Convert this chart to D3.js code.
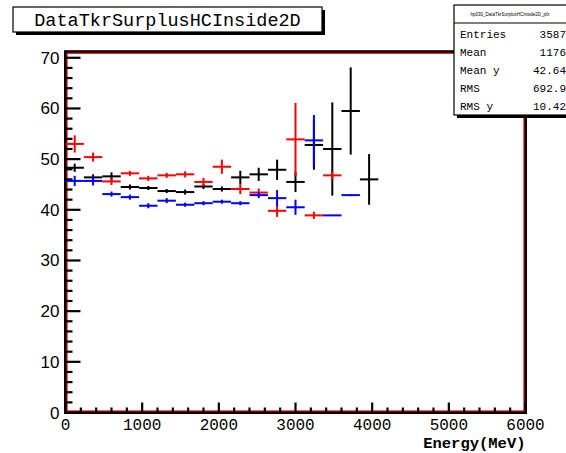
<!DOCTYPE html>
<html>
<head>
<meta charset="utf-8">
<script src="https://cdn.jsdelivr.net/npm/d3@7/dist/d3.min.js"></script>
<style>
  body { margin: 0; background: #fff; }
  text { fill: #000; }
</style>
</head>
<body>
<svg id="chart" width="566" height="453"></svg>
<script>
// bin centres (MeV), bins are 240 MeV wide
var binCenters = [120, 360, 600, 840, 1080, 1320, 1560, 1800, 2040, 2280, 2520, 2760, 3000, 3240, 3480, 3720, 3960]
var binHalfWidth = 120

var blackVals = [48.3, 46.4, 46.6, 44.5, 44.3, 43.7, 43.5, 44.6, 44.1, 46.4, 47.0, 47.9, 45.5, 52.8, 52.0, 59.5, 46.0]
var blackErrs = [0.8, 0.6, 0.8, 0.5, 0.4, 0.4, 0.5, 0.5, 0.5, 1.3, 1.3, 2.0, 2.0, 4.9, 9.2, 8.6, 5.0]

var redVals = [53.0, 50.4, 45.6, 47.2, 46.2, 46.8, 47.0, 45.5, 48.5, 44.1, 43.4, 39.8, 53.9, 38.9, 46.8, null, null]
var redErrs = [1.7, 0.9, 0.7, 0.5, 0.5, 0.5, 0.6, 0.8, 1.4, 1.0, 0.8, 1.2, 7.2, 0.7, 0.8, null, null]

var blueVals = [45.7, 45.7, 43.1, 42.5, 40.8, 41.8, 41.0, 41.3, 41.6, 41.3, 42.9, 42.3, 40.5, 53.7, 38.9, 42.9, null]
var blueErrs = [1.0, 0.9, 0.5, 0.5, 0.5, 0.5, 0.4, 0.4, 0.4, 0.4, 0.6, 1.6, 1.5, 5.0, 0, 0.2, null]

var xTickLabels = ["0", "1000", "2000", "3000", "4000", "5000", "6000"]
var yTickLabels = ["0", "10", "20", "30", "40", "50", "60", "70"]

var titleText = "DataTkrSurplusHCInside2D"
var statsName = "hp030_DataTkrSurplusHCInside2D_pfx"
var statsLabels = ["Entries", "Mean", "Mean y", "RMS", "RMS y"]
var statsValues = ["3587", "1176", "42.64", "692.9", "10.42"]

var svg = d3.select("#chart")
var mono = "'Liberation Mono', 'DejaVu Sans Mono', monospace"
var sans = "'Liberation Sans', Arial, sans-serif"

var frame = {left: 65.5, right: 525.5, top: 51.7, bottom: 412.5}
var x = d3.scaleLinear().domain([0, 6000]).range([frame.left, frame.right])
var y = d3.scaleLinear().domain([0, 71.2]).range([frame.bottom, frame.top])

// white background
svg.append("rect").attr("width", 566).attr("height", 453).attr("fill", "#fff")

// frame: black outline with a red line inside
svg.append("rect")
    .attr("x", frame.left).attr("y", frame.top)
    .attr("width", frame.right - frame.left).attr("height", frame.bottom - frame.top)
    .attr("fill", "none").attr("stroke", "#000").attr("stroke-width", 3)
svg.append("rect")
    .attr("x", frame.left + 1.5).attr("y", frame.top + 1.5)
    .attr("width", frame.right - frame.left - 3).attr("height", frame.bottom - frame.top - 3)
    .attr("fill", "none").attr("stroke", "#e00000").attr("stroke-width", 1.2)

// y ticks (inside)
var ax = svg.append("g")
d3.range(0, 71, 2).forEach(function(v) {
    var major = v % 10 == 0
    ax.append("line")
        .attr("x1", frame.left).attr("x2", frame.left + (major ? 15 : 7))
        .attr("y1", y(v)).attr("y2", y(v))
        .attr("stroke", "#000").attr("stroke-width", 2.2)
})
yTickLabels.forEach(function(t) {
    ax.append("text")
        .attr("x", frame.left - 6).attr("y", y(+t) + 6)
        .attr("text-anchor", "end")
        .attr("font-family", sans).attr("font-size", 17)
        .text(t)
})

// x ticks (inside)
d3.range(0, 6001, 200).forEach(function(v) {
    var major = v % 1000 == 0
    ax.append("line")
        .attr("x1", x(v)).attr("x2", x(v))
        .attr("y1", frame.bottom).attr("y2", frame.bottom - (major ? 10 : 5))
        .attr("stroke", "#000").attr("stroke-width", 2.2)
})
xTickLabels.forEach(function(t) {
    ax.append("text")
        .attr("x", x(+t)).attr("y", frame.bottom + 17.5)
        .attr("text-anchor", "middle")
        .attr("font-family", mono).attr("font-size", 16)
        .text(t)
})
ax.append("text")
    .attr("x", frame.right).attr("y", 448)
    .attr("text-anchor", "end")
    .attr("font-family", mono).attr("font-size", 15.5).attr("font-weight", "bold")
    .text("Energy(MeV)")

// error bar crosses
function drawSeries(vals, errs, color) {
    var g = svg.append("g").attr("stroke", color).attr("stroke-width", 2)
    for (var i = 0; i < binCenters.length; i++) {
        if (vals[i] == null) continue
        var cx = binCenters[i]
        g.append("line")
            .attr("x1", x(cx - binHalfWidth)).attr("x2", x(cx + binHalfWidth))
            .attr("y1", y(vals[i])).attr("y2", y(vals[i]))
        if (errs[i] > 0) {
            g.append("line")
                .attr("x1", x(cx)).attr("x2", x(cx))
                .attr("y1", y(vals[i] - errs[i])).attr("y2", y(vals[i] + errs[i]))
        }
    }
}
drawSeries(blackVals, blackErrs, "#000")
drawSeries(redVals, redErrs, "#ff0000")
drawSeries(blueVals, blueErrs, "#0000ff")

// title box with shadow
svg.append("rect").attr("x", 16).attr("y", 10).attr("width", 309).attr("height", 25).attr("fill", "#000")
svg.append("rect").attr("x", 13).attr("y", 7).attr("width", 309).attr("height", 25)
    .attr("fill", "#fff").attr("stroke", "#000").attr("stroke-width", 1.2)
svg.append("text")
    .attr("x", 167.5).attr("y", 26)
    .attr("text-anchor", "middle")
    .attr("font-family", mono).attr("font-size", 18.5)
    .text(titleText)

// stats box with shadow
var sb = {x: 454, y: 5, w: 120, h: 110}
svg.append("rect").attr("x", sb.x + 3).attr("y", sb.y + 3).attr("width", sb.w).attr("height", sb.h).attr("fill", "#000")
svg.append("rect").attr("x", sb.x).attr("y", sb.y).attr("width", sb.w).attr("height", sb.h)
    .attr("fill", "#fff").attr("stroke", "#000").attr("stroke-width", 1.2)
svg.append("line").attr("x1", sb.x).attr("x2", sb.x + sb.w).attr("y1", 23).attr("y2", 23)
    .attr("stroke", "#000").attr("stroke-width", 1.2)
svg.append("text")
    .attr("x", 510).attr("y", 16).attr("text-anchor", "middle")
    .attr("font-family", sans).attr("font-size", 4.5)
    .text(statsName)
statsLabels.forEach(function(lab, i) {
    var by = 38 + i * 18
    svg.append("text").attr("x", 460).attr("y", by)
        .attr("font-family", mono).attr("font-size", 11)
        .text(lab)
    svg.append("text").attr("x", 566).attr("y", by).attr("text-anchor", "end")
        .attr("font-family", mono).attr("font-size", 11)
        .text(statsValues[i])
})
</script>
</body>
</html>
